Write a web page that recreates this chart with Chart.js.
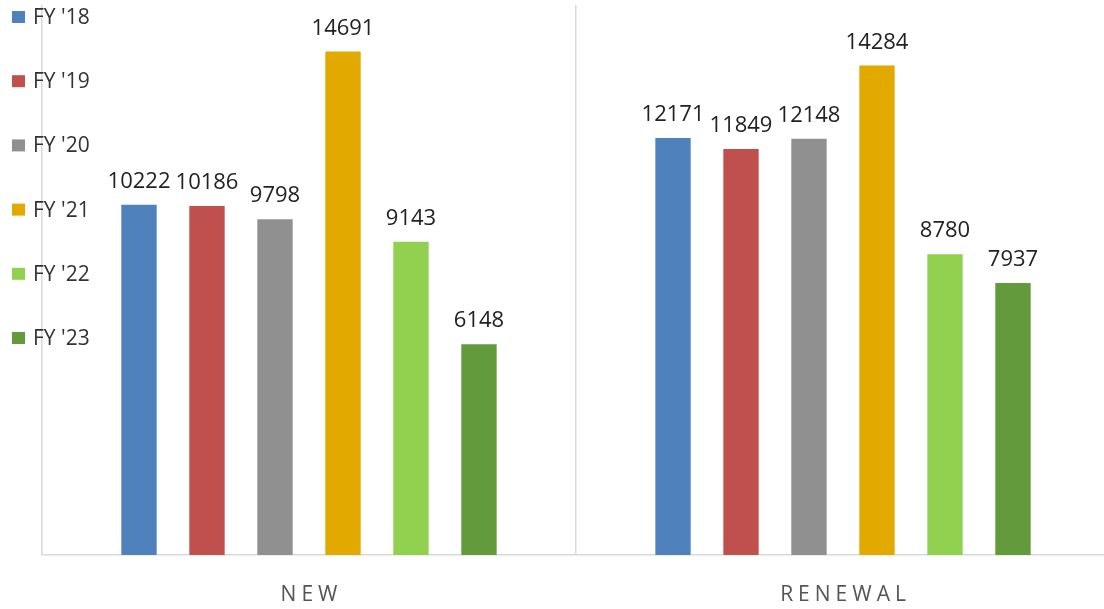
<!DOCTYPE html>
<html>
<head>
<meta charset="utf-8">
<script src="https://cdn.jsdelivr.net/npm/chart.js@4"></script>
<style>
  html, body { margin: 0; padding: 0; background: #fff; overflow: hidden; }
  #wrap { width: 1110px; height: 609px; }
</style>
</head>
<body>
<div id="wrap"><canvas id="fyChart"></canvas></div>
<script>
// data
const categories = ["NEW", "RENEWAL"];
const seriesNames = ["FY '18", "FY '19", "FY '20", "FY '21", "FY '22", "FY '23"];
const fy18 = [10222, 12171];
const fy19 = [10186, 11849];
const fy20 = [9798, 12148];
const fy21 = [14691, 14284];
const fy22 = [9143, 8780];
const fy23 = [6148, 7937];
const colors = ["#4f81bd", "#c0504d", "#909090", "#e2aa00", "#92d050", "#639a3c"];

const FONT = "'Open Sans', sans-serif";
const allSeries = [fy18, fy19, fy20, fy21, fy22, fy23];

const datasets = allSeries.map((vals, i) => ({
  label: seriesNames[i],
  data: vals,
  backgroundColor: colors[i],
  barPercentage: 0.52,
  categoryPercentage: 0.764
}));

// value labels on top of bars
const valueLabels = {
  id: 'valueLabels',
  afterDatasetsDraw(chart) {
    const ctx = chart.ctx;
    ctx.save();
    ctx.font = "22px " + FONT;
    ctx.fillStyle = "#222";
    ctx.textAlign = "center";
    ctx.textBaseline = "alphabetic";
    chart.data.datasets.forEach((ds, i) => {
      chart.getDatasetMeta(i).data.forEach((bar, j) => {
        ctx.fillText(String(ds.data[j]), bar.x, bar.y - 17);
      });
    });
    ctx.restore();
  }
};

// legend drawn in the left margin, overlapping the axis like the original
const sideLegend = {
  id: 'sideLegend',
  afterDraw(chart) {
    const ctx = chart.ctx;
    ctx.save();
    ctx.font = "21px " + FONT;
    ctx.textBaseline = "middle";
    chart.data.datasets.forEach((ds, i) => {
      const y = 17 + i * 64.2;
      ctx.fillStyle = ds.backgroundColor;
      ctx.fillRect(12, y - 6, 13, 12);
      ctx.fillStyle = "#333";
      ctx.textAlign = "left";
      ctx.fillText(ds.label, 33, y + 1);
    });
    ctx.restore();
  }
};

// spaced category names under the axis
const catLabels = {
  id: 'catLabels',
  afterDraw(chart) {
    const ctx = chart.ctx;
    const xs = chart.scales.x;
    ctx.save();
    ctx.font = "21px " + FONT;
    ctx.fillStyle = "#555";
    ctx.textBaseline = "alphabetic";
    ctx.letterSpacing = "5px";
    chart.data.labels.forEach((lab, i) => {
      const w = ctx.measureText(lab).width - 5;
      ctx.textAlign = "left";
      ctx.fillText(lab, xs.getPixelForValue(i) - w / 2, 601);
    });
    ctx.restore();
  }
};

new Chart(document.getElementById("fyChart").getContext("2d"), {
  type: 'bar',
  data: { labels: categories, datasets: datasets },
  options: {
    responsive: true,
    maintainAspectRatio: false,
    animation: false,
    layout: { padding: { left: 42, top: 5, right: 0, bottom: 0 } },
    plugins: { legend: { display: false }, tooltip: { enabled: false } },
    scales: {
      x: {
        offset: true,
        grid: { display: true, offset: true, color: "#d9d9d9", lineWidth: 1.5, drawTicks: false },
        border: { display: true, color: "#d9d9d9", width: 1.5 },
        ticks: { display: false },
        afterFit(s) { s.height = 54; }
      },
      y: {
        display: false,
        min: 0,
        max: 16050
      }
    }
  },
  plugins: [valueLabels, sideLegend, catLabels]
});
</script>
</body>
</html>
